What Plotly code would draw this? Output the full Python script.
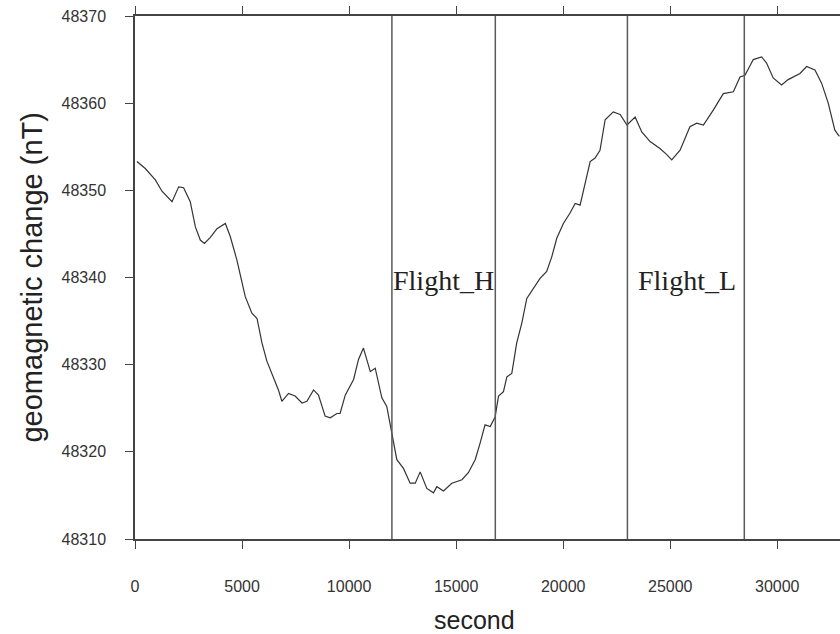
import plotly.graph_objects as go

# time (s) and geomagnetic field (nT)
seconds = [90, 480, 950, 1260, 1730, 2040, 2270, 2580, 2820, 3050, 3240, 3520, 3830, 4220,
           4450, 4760, 5150, 5460, 5700, 5930, 6160, 6470, 6700, 6860, 7170, 7480, 7800,
           8030, 8340, 8570, 8880, 9120, 9430, 9580, 9820, 10210, 10440, 10670, 10990,
           11220, 11530, 11760, 12000, 12230, 12540, 12850, 13090, 13320, 13630, 13940,
           14100, 14410, 14800, 15270, 15570, 15890, 16120, 16350, 16590, 16820, 16980,
           17210, 17370, 17600, 17830, 18070, 18300, 18610, 18920, 19230, 19470, 19700,
           20010, 20320, 20560, 20790, 21020, 21260, 21490, 21720, 21960, 22110, 22340,
           22660, 22980, 23360, 23670, 24060, 24520, 24840, 25070, 25460, 25920, 26240,
           26550, 27010, 27480, 27950, 28260, 28490, 28880, 29270, 29500, 29810, 30200,
           30510, 31060, 31370, 31760, 32070, 32380, 32690, 32900]
field = [48353.3, 48352.5, 48351.2, 48349.9, 48348.7, 48350.4, 48350.3, 48348.7, 48345.8,
         48344.3, 48343.9, 48344.6, 48345.6, 48346.2, 48344.7, 48342.0, 48337.8, 48335.9,
         48335.3, 48332.5, 48330.4, 48328.6, 48327.1, 48325.8, 48326.7, 48326.4, 48325.6,
         48325.8, 48327.1, 48326.5, 48324.1, 48323.9, 48324.4, 48324.4, 48326.5, 48328.3,
         48330.6, 48331.9, 48329.2, 48329.6, 48326.2, 48325.2, 48322.2, 48319.1, 48318.1,
         48316.4, 48316.4, 48317.7, 48315.8, 48315.3, 48316.0, 48315.5, 48316.4, 48316.8,
         48317.6, 48319.1, 48321.0, 48323.1, 48322.9, 48324.0, 48326.4, 48326.9, 48328.6,
         48329.0, 48332.5, 48334.8, 48337.6, 48338.8, 48339.9, 48340.7, 48342.4, 48344.5,
         48346.2, 48347.4, 48348.5, 48348.3, 48350.8, 48353.3, 48353.7, 48354.6, 48358.1,
         48358.5, 48359.0, 48358.7, 48357.5, 48358.4, 48356.7, 48355.6, 48354.8, 48354.1,
         48353.5, 48354.6, 48357.3, 48357.7, 48357.5, 48359.2, 48361.1, 48361.3, 48363.0,
         48363.2, 48365.0, 48365.3, 48364.6, 48362.9, 48362.1, 48362.7, 48363.4, 48364.2,
         48363.8, 48362.3, 48360.0, 48356.9, 48356.2]

# flight period boundaries (s) and labels
boundaries = [12000, 16830, 23000, 28460]
flight_names = ["Flight_H", "Flight_L"]
flight_centers = [14400, 25800]
flight_label_level = 48339.7

x_ticks = [0, 5000, 10000, 15000, 20000, 25000, 30000]
y_ticks = [48310, 48320, 48330, 48340, 48350, 48360, 48370]

fig = go.Figure()
fig.add_trace(go.Scatter(x=seconds, y=field, mode="lines",
                         line=dict(color="#333333", width=1.2), showlegend=False))

for b in boundaries:
    fig.add_shape(type="line", xref="x", yref="paper", x0=b, x1=b, y0=0, y1=1,
                  line=dict(color="#5a5a5a", width=1.5))

for name, c in zip(flight_names, flight_centers):
    fig.add_annotation(x=c, y=flight_label_level, xref="x", yref="y", text=name,
                       showarrow=False, xanchor="center", yanchor="middle",
                       font=dict(family="Liberation Serif", size=28, color="#222222"))

# axis titles
fig.add_annotation(x=0.482, y=-0.154, xref="paper", yref="paper", text="second",
                   showarrow=False, xanchor="center", yanchor="middle",
                   font=dict(family="Liberation Sans", size=25, color="#222222"))
fig.add_annotation(x=-0.1475, y=0.5, xref="paper", yref="paper",
                   text="geomagnetic change (nT)", textangle=-90,
                   showarrow=False, xanchor="center", yanchor="middle",
                   font=dict(family="Liberation Sans", size=29, color="#222222"))

axis_font = dict(family="Liberation Sans", size=16, color="#333333")
fig.update_layout(
    width=840, height=634,
    margin=dict(l=135, r=0, t=16, b=95),
    paper_bgcolor="white", plot_bgcolor="white",
    xaxis=dict(range=[0, 32930], tickvals=x_ticks, ticktext=[str(v) for v in x_ticks],
               ticks="outside", ticklen=8, tickwidth=1.3, tickcolor="#444444",
               showline=True, linecolor="#444444", linewidth=1.5, mirror="ticks",
               showgrid=False, zeroline=False, tickfont=axis_font,
               ticklabelstandoff=24),
    yaxis=dict(range=[48310, 48370], tickvals=y_ticks, ticktext=[str(v) for v in y_ticks],
               ticks="outside", ticklen=8, tickwidth=1.3, tickcolor="#444444",
               showline=True, linecolor="#444444", linewidth=1.5, mirror=False,
               showgrid=False, zeroline=False, tickfont=axis_font,
               ticklabelstandoff=16),
)

fig.write_html("out.html")
